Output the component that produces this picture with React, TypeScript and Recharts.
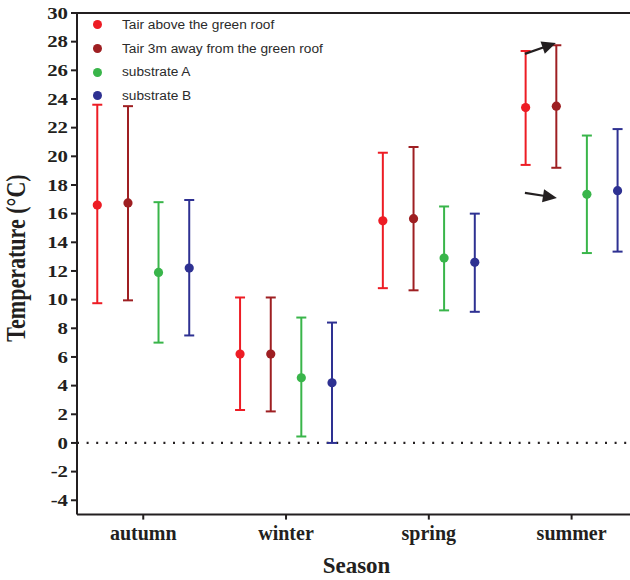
import React from 'react';
import { ScatterChart, Scatter, XAxis, YAxis, ErrorBar, ReferenceLine, Label } from 'recharts';

const seasons = ['autumn', 'winter', 'spring', 'summer'];
const yTicks = [-4, -2, 0, 2, 4, 6, 8, 10, 12, 14, 16, 18, 20, 22, 24, 26, 28, 30];

const seriesNames = ['Tair above the green roof', 'Tair 3m away from the green roof', 'substrate A', 'substrate B'];
const seriesColors = ['#ed1c24', '#9e1f22', '#39b54a', '#2e3192'];

const tairAboveMean = [16.6, 6.2, 15.5, 23.4];
const tairAboveLow = [9.75, 2.3, 10.8, 19.4];
const tairAboveHigh = [23.6, 10.15, 20.25, 27.35];

const tair3mMean = [16.75, 6.2, 15.65, 23.5];
const tair3mLow = [9.95, 2.2, 10.65, 19.2];
const tair3mHigh = [23.5, 10.15, 20.65, 27.75];

const subAMean = [11.9, 4.55, 12.9, 17.35];
const subALow = [7.0, 0.45, 9.25, 13.25];
const subAHigh = [16.8, 8.75, 16.5, 21.45];

const subBMean = [12.2, 4.2, 12.6, 17.6];
const subBLow = [7.5, 0.0, 9.15, 13.35];
const subBHigh = [16.95, 8.4, 16.0, 21.9];

// arrows (annotation) in data coordinates: [x1, y1, x2, y2]
const arrows = [
  [3.673, 27.15, 3.89, 27.9],
  [3.673, 17.45, 3.897, 17.1],
];

const groupOffsets = [-0.322, -0.107, 0.107, 0.322];

const means = [tairAboveMean, tair3mMean, subAMean, subBMean];
const lows = [tairAboveLow, tair3mLow, subALow, subBLow];
const highs = [tairAboveHigh, tair3mHigh, subAHigh, subBHigh];

const seriesData = means.map((m, si) =>
  m.map((v, ci) => ({
    x: ci + 1 + groupOffsets[si],
    y: v,
    err: [v - lows[si][ci], highs[si][ci] - v],
  }))
);

const serif = '"Liberation Serif", "Times New Roman", serif';
const sans = '"Liberation Sans", Arial, sans-serif';

const YTick = (props: any) => {
  const { x, y, payload } = props;
  return (
    <text
      transform={`translate(${x},${y}) scale(1.3,1)`}
      textAnchor="end"
      dy="0.36em"
      fontFamily={serif}
      fontWeight="bold"
      fontSize={16}
      fill="#231f20"
    >
      {payload.value}
    </text>
  );
};

const XTick = (props: any) => {
  const { x, y, payload } = props;
  return (
    <text
      x={x}
      y={y}
      textAnchor="middle"
      dy="0.72em"
      fontFamily={serif}
      fontWeight="bold"
      fontSize={20}
      fill="#231f20"
    >
      {seasons[payload.value - 1]}
    </text>
  );
};

const Arrow = (props: any) => {
  const { x1, y1, x2, y2 } = props;
  const dx = x2 - x1;
  const dy = y2 - y1;
  const len = Math.sqrt(dx * dx + dy * dy);
  const ux = dx / len;
  const uy = dy / len;
  const hl = 14;
  const hw = 6.5;
  const bx = x2 - ux * hl;
  const by = y2 - uy * hl;
  const pts = `${x2},${y2} ${bx - uy * hw},${by + ux * hw} ${bx + uy * hw},${by - ux * hw}`;
  return (
    <g>
      <line x1={x1} y1={y1} x2={bx + ux * 2} y2={by + uy * 2} stroke="#231f20" strokeWidth={2.2} />
      <polygon points={pts} fill="#231f20" />
    </g>
  );
};

const LegendBox = () => (
  <div
    style={{
      position: 'absolute',
      left: 93,
      top: 13,
      fontFamily: sans,
      fontSize: 13.7,
      color: '#2b2b2b',
      lineHeight: '23.7px',
    }}
  >
    {seriesNames.map((n, i) => (
      <div key={n} style={{ display: 'flex', alignItems: 'center', height: 23.7 }}>
        <span
          style={{
            display: 'inline-block',
            width: 9,
            height: 9,
            borderRadius: '50%',
            background: seriesColors[i],
            marginRight: 20,
          }}
        />
        <span>{n}</span>
      </div>
    ))}
  </div>
);

export default function App() {
  return (
    <div style={{ position: 'absolute', left: 0, top: 0, width: 630, height: 580, background: '#fff' }}>
      <ScatterChart width={630} height={580} margin={{ top: 13, right: 0, bottom: 0, left: 0 }}>
        <XAxis
          type="number"
          dataKey="x"
          domain={[0.536, 4.409]}
          ticks={[1, 2, 3, 4]}
          allowDataOverflow
          height={65.4}
          axisLine={{ stroke: '#231f20', strokeWidth: 2 }}
          tickLine={{ stroke: '#231f20', strokeWidth: 2 }}
          tickSize={5}
          tickMargin={6}
          tick={<XTick />}
        >
          <Label
            content={(p: any) => {
              const vb = p.viewBox;
              return (
                <text
                  x={vb.x + vb.width / 2 + 3}
                  y={573}
                  textAnchor="middle"
                  fontFamily={serif}
                  fontWeight="bold"
                  fontSize={23}
                  fill="#231f20"
                >
                  Season
                </text>
              );
            }}
          />
        </XAxis>
        <YAxis
          type="number"
          dataKey="y"
          domain={[-5, 30]}
          ticks={yTicks}
          allowDataOverflow
          width={77}
          axisLine={{ stroke: '#231f20', strokeWidth: 2 }}
          tickLine={{ stroke: '#231f20', strokeWidth: 2 }}
          tickSize={6}
          tickMargin={3}
          tick={<YTick />}
        >
          <Label
            content={() => (
              <text
                transform={`translate(25,258) rotate(-90) scale(1.05,1.25)`}
                textAnchor="middle"
                fontFamily={serif}
                fontWeight="bold"
                fontSize={21}
                fill="#231f20"
              >
                Temperature (°C)
              </text>
            )}
          />
        </YAxis>
        <ReferenceLine y={30} stroke="#231f20" strokeWidth={2} />
        <ReferenceLine y={0} stroke="#231f20" strokeWidth={2.2} strokeDasharray="2 7.6" />
        {seriesData.map((d, i) => (
          <Scatter
            key={seriesNames[i]}
            name={seriesNames[i]}
            data={d}
            fill={seriesColors[i]}
            isAnimationActive={false}
            shape={(p: any) => <circle cx={p.cx} cy={p.cy} r={4.6} fill={seriesColors[i]} />}
          >
            <ErrorBar dataKey="err" direction="y" width={5} strokeWidth={2} stroke={seriesColors[i]} />
          </Scatter>
        ))}
        {arrows.map((a, i) => (
          <ReferenceLine
            key={'arrow' + i}
            segment={[{ x: a[0], y: a[1] }, { x: a[2], y: a[3] }]}
            shape={(p: any) => <Arrow {...p} />}
          />
        ))}
      </ScatterChart>
      <LegendBox />
    </div>
  );
}
